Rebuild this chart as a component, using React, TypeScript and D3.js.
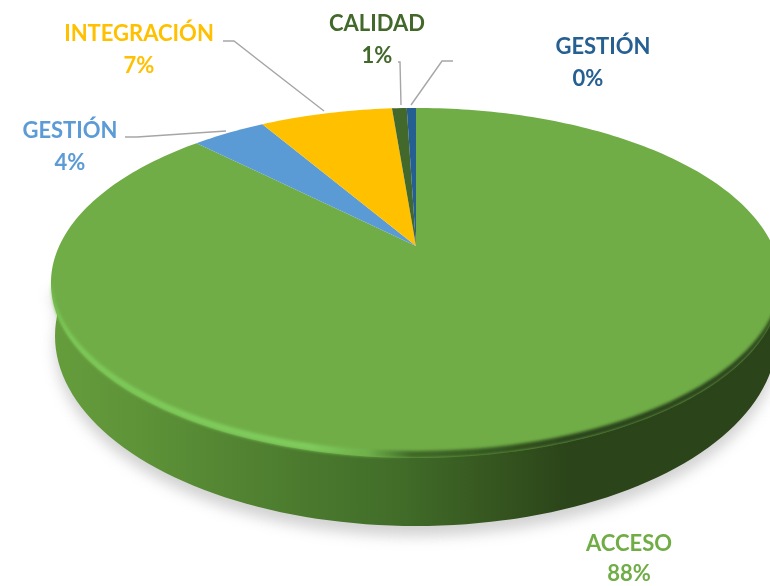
import * as d3 from "d3";
import React from "react";
import { useRef, useEffect } from "react";

// values (percent)
const categories = ["ACCESO", "GESTIÓN", "INTEGRACIÓN", "CALIDAD", "GESTIÓN"];
const values = [87.5, 4.0, 7.2, 0.8, 0.5];
const percentLabels = ["88%", "4%", "7%", "1%", "0%"];
const colors = ["#70ad47", "#5b9bd5", "#ffc000", "#43682b", "#255e91"];

// label centre x + first line baseline, same order as categories
const labelSpots = [[629, 551], [70, 138], [139, 41], [377, 31], [603, 54]];
const leaders = [
  null,
  [[125, 137], [137, 137], [226, 131]],
  [[223, 41], [234, 41], [324, 111]],
  [[398, 62], [400, 62], [401, 105]],
  [[453, 61], [442, 61], [411, 105]],
];

const width = 770;
const height = 586;

// pie tilt: the circle is projected so that its centre sits above the ellipse centre
const apex = { x: 416, y: 246 };
const persp = -0.2114;
const scaleU = 356.8;
const scaleV = 167.2;
const project = (angle: number, r = 1): [number, number] => {
  const u = r * Math.sin(angle);
  const v = -r * Math.cos(angle);
  const d = 1 + persp * v;
  return [apex.x + (scaleU * u) / d, apex.y + (scaleV * v) / d];
};

// bottom rim of the side wall
const rim = { cx: 416, cy: 336, rx: 361, ry: 190 };

export default function App() {
  const ref = useRef<SVGSVGElement>(null);

  useEffect(() => {
    const svg = d3.select(ref.current);
    svg.selectAll("*").remove();
    svg.attr("width", width).attr("height", height);

    const line = d3.line();
    const tau = 2 * Math.PI;

    const defs = svg.append("defs");
    const blur = (id: string, sd: number) =>
      defs.append("filter")
        .attr("id", id)
        .attr("x", "-10%").attr("y", "-10%")
        .attr("width", "120%").attr("height", "120%")
        .append("feGaussianBlur").attr("stdDeviation", sd);
    blur("shadowBlur", 7);
    blur("edgeBlur", 1.5);
    blur("softText", 0.35);

    const hGradient = (id: string, stops: [number, string][]) => {
      const g = defs.append("linearGradient")
        .attr("id", id)
        .attr("gradientUnits", "userSpaceOnUse")
        .attr("x1", 52).attr("x2", 770).attr("y1", 0).attr("y2", 0);
      stops.forEach(([o, c]) => g.append("stop").attr("offset", o).attr("stop-color", c));
    };
    hGradient("sideFill", [
      [0, "#659d3c"], [0.12, "#5e9338"], [0.3, "#4f7f30"],
      [0.48, "#416d29"], [0.62, "#35551f"], [0.72, "#2b441a"], [1, "#2b441a"],
    ]);
    hGradient("edgeFill", [
      [0, "#7cc857"], [0.36, "#7fcb5c"], [0.44, "#6fb04a"],
      [0.5, "#3f6a28"], [0.72, "#2b441a"], [1, "#2b441a"],
    ]);

    // side wall outline: face edge down to the rim
    const rimPts = d3.range(-8, 189, 2).map((deg): [number, number] => [
      rim.cx + rim.rx * Math.cos((deg / 180) * Math.PI),
      rim.cy + rim.ry * Math.sin((deg / 180) * Math.PI),
    ]);
    const leftFace = project((258 / 360) * tau);
    const rightFace = project((102 / 360) * tau);
    const sidePath = line([rightFace, ...rimPts, leftFace]) + "Z";

    // soft shadow under the pie
    svg.append("path")
      .attr("d", sidePath)
      .attr("fill", "#b4b4b4")
      .attr("opacity", 0.6)
      .attr("transform", "translate(0,10)")
      .attr("filter", "url(#shadowBlur)");

    svg.append("path").attr("d", sidePath).attr("fill", "url(#sideFill)");

    // top face slices
    const arcs = d3.pie<number>().sort(null)(values);
    svg.append("g")
      .selectAll("path")
      .data(arcs)
      .join("path")
      .attr("d", (d) => {
        const n = Math.max(2, Math.ceil((d.endAngle - d.startAngle) / 0.02));
        const pts = d3.range(n + 1).map((i) =>
          project(d.startAngle + ((d.endAngle - d.startAngle) * i) / n));
        return line([[apex.x, apex.y], ...pts]) + "Z";
      })
      .attr("fill", (_, i) => colors[i]);

    // bevel: crescent between the lower face edge and the same edge lifted a little
    const lowerEdge = d3.range(102, 259, 2).map((deg) => project((deg / 360) * tau));
    const lifted = lowerEdge.map(([x, y]): [number, number] => [x, y - 7]).reverse();
    svg.append("path")
      .attr("d", line([...lowerEdge, ...lifted]) + "Z")
      .attr("fill", "url(#edgeFill)")
      .attr("filter", "url(#edgeBlur)");

    // leader lines
    svg.append("g")
      .selectAll("path")
      .data(leaders.filter(Boolean) as [number, number][][])
      .join("path")
      .attr("d", (d) => line(d))
      .attr("fill", "none")
      .attr("stroke", "#a6a6a6")
      .attr("stroke-width", 1.4);

    // data labels
    const labels = svg.append("g")
      .attr("font-family", "Lato, sans-serif")
      .attr("font-weight", 700)
      .attr("font-size", 22)
      .attr("text-anchor", "middle")
      .attr("filter", "url(#softText)");
    categories.forEach((name, i) => {
      const [x, y] = labelSpots[i];
      labels.append("text").attr("x", x).attr("y", y).attr("fill", colors[i]).text(name);
      labels.append("text")
        .attr("x", x - (i === 4 ? 15 : 0))
        .attr("y", y + (i === 0 ? 30 : 32))
        .attr("fill", colors[i])
        .text(percentLabels[i]);
    });
  }, []);

  return (
    <svg ref={ref} style={{ position: "absolute", left: 0, top: 0, background: "#fff" }} />
  );
}
